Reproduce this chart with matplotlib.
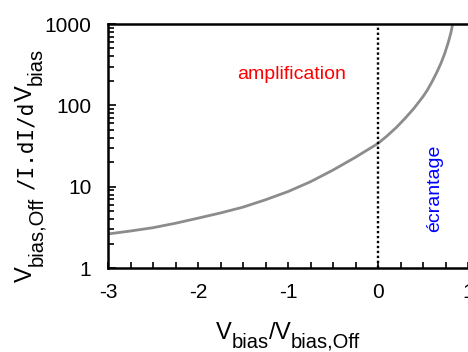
import matplotlib
matplotlib.use("Agg")
import matplotlib.pyplot as plt
from matplotlib.ticker import LogLocator, MultipleLocator, NullFormatter, FixedLocator

plt.rcParams['font.family'] = ['Liberation Sans', 'DejaVu Sans']

x_ratio = [-3, -2.75, -2.5, -2.25, -2, -1.75, -1.5, -1.25, -1, -0.75, -0.5, -0.25,
           0, 0.1, 0.2, 0.3, 0.4, 0.5, 0.55, 0.6, 0.65, 0.7, 0.74, 0.78, 0.81, 0.83]
y_gain = [2.62, 2.85, 3.13, 3.55, 4.1, 4.75, 5.6, 6.9, 8.7, 11.5, 16, 23,
          34, 42, 53, 69, 92, 128, 155, 195, 250, 330, 430, 590, 780, 1000]
x_ticks = [-3, -2, -1, 0, 1]
y_ticks = [1, 10, 100, 1000]
y_tick_labels = ['1', '10', '100', '1000']

W, H = 468, 352
fig = plt.figure(figsize=(W/100, H/100), dpi=100)
ax = fig.add_axes([108/W, 1-268/H, 1-108/W, (268-24)/H])

ax.plot(x_ratio, y_gain, color='#8c8c8c', lw=2)
ax.axvline(0, color='black', ls=(0, (1, 1.1)), lw=1.7)

ax.set_yscale('log')
ax.set_xlim(-3, 1)
ax.set_ylim(1, 1000)
ax.set_xticks(x_ticks)
ax.set_xticklabels([str(t) for t in x_ticks])
ax.xaxis.set_minor_locator(MultipleLocator(0.25))
ax.yaxis.set_major_locator(FixedLocator(y_ticks))
ax.set_yticklabels(y_tick_labels)
ax.yaxis.set_minor_locator(LogLocator(base=10, subs=range(2, 10)))
ax.yaxis.set_minor_formatter(NullFormatter())

ax.tick_params(axis='both', which='both', direction='in', labelsize=15, width=1.2, color='black')
ax.tick_params(axis='x', which='major', length=4, pad=11)
ax.tick_params(axis='x', which='minor', length=4)
ax.tick_params(axis='y', which='major', length=6, pad=12)
ax.tick_params(axis='y', which='minor', length=4)

for s in ['left', 'bottom', 'top']:
    ax.spines[s].set_linewidth(1.8)
ax.spines['right'].set_visible(False)

# axis labels composed of pieces (main text + large subscripts)
renderer = fig.canvas.get_renderer()

def compose(parts, center, baseline, rotation=0):
    texts, widths = [], []
    for s, size, shift, gap, fam in parts:
        t = fig.text(0, 0, s, fontsize=size, family=fam, ha='left', va='baseline',
                     rotation=rotation, rotation_mode='anchor')
        bb = t.get_window_extent(renderer)
        texts.append((t, shift, gap))
        widths.append(bb.width if rotation == 0 else bb.height)
    total = sum(widths) + sum(g for _, _, g in texts)
    pos = center - total / 2
    for (t, shift, gap), w in zip(texts, widths):
        pos += gap
        if rotation == 0:
            t.set_position((pos / W, 1 - (baseline + shift) / H))
        else:
            t.set_position(((baseline + shift) / W, pos / H))
        pos += w

sans = ['Liberation Sans', 'DejaVu Sans']
mono = ['DejaVu Sans Mono']
compose([('V', 17, 0, 0, sans), ('bias', 14.5, 9, 0, sans), ('/', 17, 0, 0, sans),
         ('V', 17, 0, 0, sans), ('bias,Off', 14.5, 9, 0, sans)],
        center=288, baseline=339)
compose([('V', 17, 0, 0, sans), ('bias,Off', 14.5, 10, 0, sans),
         ('/I.dI/d', 15, 0, 8, mono), ('V', 17, 0, 0, sans), ('bias', 14.5, 10, 0, sans)],
        center=H - 165, baseline=32, rotation=90)

ax.text(292/W, 1 - 79/H, 'amplification', color='red', fontsize=14,
        ha='center', va='baseline', transform=fig.transFigure)
ax.text(435/W, 1 - 188/H, 'écrantage', color='blue', fontsize=14,
        ha='center', va='center', rotation=90, transform=fig.transFigure)

fig.savefig('out.png', dpi=100)
